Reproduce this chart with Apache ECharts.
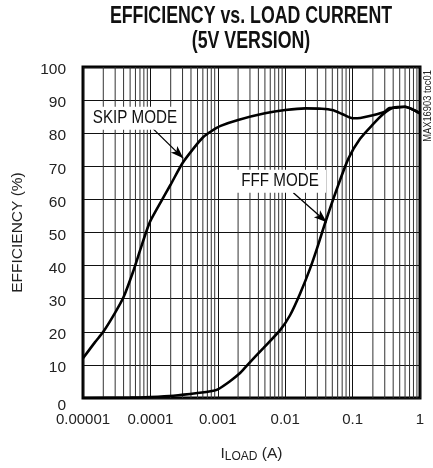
<!DOCTYPE html>
<html><head><meta charset="utf-8">
<script src="https://cdn.jsdelivr.net/npm/echarts@6/dist/echarts.min.js"></script>
<style>html,body{margin:0;padding:0;background:#fff}#c{width:433px;height:468px}</style>
</head><body><div id="c"></div>
<script>
// ---- data ----
const xTickLabels = ['0.00001', '0.0001', '0.001', '0.01', '0.1', '1'];
const yTicks = [0, 10, 20, 30, 40, 50, 60, 70, 80, 90, 100];
const minorDecades = [1e-5, 1e-4, 1e-3, 1e-2, 1e-1];
const minorMultipliers = [2, 3, 4, 5, 6, 7, 8, 9];

const skipX = [1e-5, 1.5e-5, 2e-5, 3e-5, 4e-5, 5.5e-5, 7e-5, 8.6e-5, 1e-4, 1.5e-4, 2e-4, 3e-4, 4.4e-4, 6e-4, 8e-4, 1.1e-3, 2e-3, 5e-3, 1e-2, 2e-2, 3.5e-2, 5e-2, 7e-2, 1e-1, 1.3e-1, 2e-1, 3e-1, 3.5e-1, 4.5e-1, 6e-1, 7.5e-1, 1];
const skipY = [12, 16.8, 20, 25.8, 30.5, 38, 44.5, 50, 53.5, 60, 64.5, 71, 75.5, 78.7, 80.6, 82.2, 84, 86, 87, 87.5, 87.4, 87, 85.8, 84.5, 84.6, 85.4, 86.5, 87.6, 87.7, 88, 87.3, 86];

const fffX = [1e-5, 5e-5, 1e-4, 2.2e-4, 5e-4, 8.6e-4, 1e-3, 1.5e-3, 2.1e-3, 2.7e-3, 4.7e-3, 8.4e-3, 1.18e-2, 1.66e-2, 2.33e-2, 3e-2, 3.9e-2, 5.8e-2, 8.7e-2, 1.29e-1, 2.03e-1, 2.85e-1, 4e-1, 6e-1, 7.5e-1, 1];
const fffY = [0, 0.1, 0.3, 0.7, 1.5, 2.2, 2.6, 5.0, 7.4, 9.8, 15, 20.5, 25, 31.5, 39, 45.5, 52.8, 63, 72.4, 78.3, 82.8, 85.8, 87.7, 88, 87.3, 86];

// annotations: text, label x/y, arrow from x/y, arrow to x/y (data units)
const skipNote = ['SKIP MODE', 5.9e-5, 84.5, 1.1e-4, 81.3, 3.08e-4, 72.4];
const fffNote = ['FFF MODE', 8.4e-3, 65.5, 1.32e-2, 62.0, 4.13e-2, 53.1];

const FONT = '"Liberation Sans", Arial, sans-serif';

const zip = (xs, ys) => xs.map((x, i) => [x, ys[i]]);
const minorData = [];
minorDecades.forEach(d => minorMultipliers.forEach(m => {
  const x = d * m;
  minorData.push([x, 0], [x, 100], [x, '-']);
}));

function arrow(n) {
  return {
    markLine: {
      silent: true, symbol: ['none', 'arrow'], symbolSize: [7, 13],
      lineStyle: { color: '#000', width: 1.3, type: 'solid' }, label: { show: false },
      data: [[{ coord: [n[3], n[4]] }, { coord: [n[5], n[6]] }]]
    }
  };
}

const chart = echarts.init(document.getElementById('c'), null, { renderer: 'canvas' });
const baseGraphic = [
  { id: 't1', type: 'text', x: 251, y: 16.5, scaleX: 0.74, style: { text: 'EFFICIENCY vs. LOAD CURRENT', fontFamily: FONT, fontWeight: 'bold', fontSize: 24, fill: '#111', align: 'center', verticalAlign: 'middle' } },
  { id: 't2', type: 'text', x: 251, y: 41.5, scaleX: 0.74, style: { text: '(5V VERSION)', fontFamily: FONT, fontWeight: 'bold', fontSize: 24, fill: '#111', align: 'center', verticalAlign: 'middle' } },
  { id: 'wm', type: 'text', x: 428, y: 106, rotation: Math.PI / 2, scaleX: 0.85, style: { text: 'MAX16903 toc01', fontFamily: FONT, fontSize: 11, fill: '#222', align: 'center', verticalAlign: 'middle' } }
];
chart.setOption({
  animation: false,
  backgroundColor: '#fff',
  graphic: baseGraphic,
  grid: { left: 83, right: 13, top: 67, bottom: 64, show: true, borderColor: '#000', borderWidth: 3, backgroundColor: 'transparent' },
  xAxis: {
    type: 'log', logBase: 10, min: 1e-5, max: 1,
    axisLine: { show: false }, axisTick: { show: false },
    splitLine: { show: true, lineStyle: { color: '#111', width: 1 } },
    axisLabel: { fontFamily: FONT, fontSize: 15, color: '#222', margin: 14,
      formatter: (v, i) => xTickLabels[i] },
    name: '{a|I}{b|LOAD}{a| (A)}', nameLocation: 'middle', nameGap: 47,
    nameTextStyle: { fontFamily: FONT, color: '#222', rich: {
      a: { fontFamily: FONT, fontSize: 15.5, color: '#222' },
      b: { fontFamily: FONT, fontSize: 12, color: '#222', padding: [6, 0, 0, 0] } } }
  },
  yAxis: {
    type: 'value', min: 0, max: 100, interval: 10,
    axisLine: { show: false }, axisTick: { show: false },
    splitLine: { show: true, lineStyle: { color: '#111', width: 1 } },
    axisLabel: { fontFamily: FONT, fontSize: 15.5, color: '#222', margin: 17,
      formatter: v => (yTicks.indexOf(v) < 0 ? '' : (v === 0 ? '{z|0}' : '{n|' + v + '}')),
      rich: { n: { fontFamily: FONT, fontSize: 15.5, color: '#222', lineHeight: 22, verticalAlign: 'bottom' },
              z: { fontFamily: FONT, fontSize: 15.5, color: '#222', lineHeight: 32, verticalAlign: 'bottom' } } },
    name: 'EFFICIENCY (%)', nameLocation: 'middle', nameRotate: 90, nameGap: 57,
    nameTextStyle: { fontFamily: FONT, fontSize: 15.5, color: '#222' }
  },
  series: [
    { name: 'minor', type: 'line', data: minorData, z: 1, silent: true, showSymbol: false, connectNulls: false,
      lineStyle: { color: '#333', width: 1 } },
    Object.assign({ name: 'skip', type: 'line', data: zip(skipX, skipY), smooth: 0.25, showSymbol: false, z: 3,
      lineStyle: { color: '#000', width: 2.6 } }, arrow(skipNote)),
    Object.assign({ name: 'fff', type: 'line', data: zip(fffX, fffY), smooth: 0.25, showSymbol: false, z: 3,
      lineStyle: { color: '#000', width: 2.6 } }, arrow(fffNote))
  ]
});

function noteGraphic(n, id) {
  const p = chart.convertToPixel({ gridIndex: 0 }, [n[1], n[2]]);
  return {
    id: id, type: 'group', x: p[0], y: p[1], z: 50,
    children: [
      { type: 'rect', z: 50, shape: { x: -46, y: -11.5, width: 92, height: 23 }, style: { fill: '#fff' } },
      { type: 'text', z: 51, scaleX: 0.82, style: { text: n[0], fontFamily: FONT, fontSize: 18.5, fill: '#111', align: 'center', verticalAlign: 'middle' } }
    ]
  };
}
chart.setOption({ graphic: baseGraphic.concat([noteGraphic(skipNote, 'n1'), noteGraphic(fffNote, 'n2')]) });
</script></body></html>
